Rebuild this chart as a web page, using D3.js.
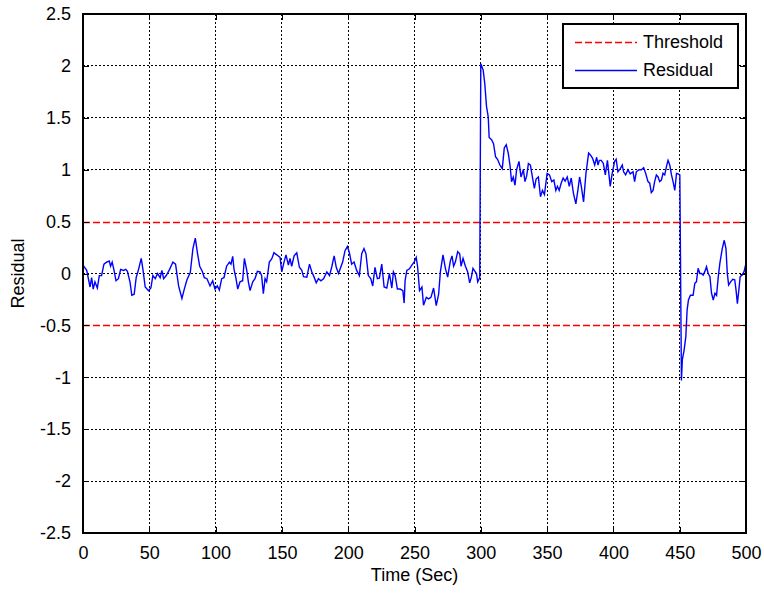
<!DOCTYPE html>
<html>
<head>
<meta charset="utf-8">
<script src="https://cdn.jsdelivr.net/npm/d3@7"></script>
<style>
  body { margin: 0; background: #fff; }
  text { font-family: "Liberation Sans", Arial, sans-serif; }
</style>
</head>
<body>
<script>
/* data */
var time = [0, 2.8, 5.3, 6.5, 7.7, 9, 10.8, 12.3, 14, 15.8, 17.8, 19.8, 20.8, 22, 23.4, 24.9, 26.7, 28.4, 30.5, 32.2,
  33.5, 35.5, 36.8, 38.6, 40.1, 41.9, 43.9, 45.2, 46.9, 49.4, 51.2, 52.7, 54.5, 56.2, 58.2, 59.5, 60.8, 62.8, 65.3, 67.8,
  69.8, 72.1, 74.6, 76.4, 78.4, 80.9, 82.9, 84.7, 86.4, 88, 90, 91.5, 93.5,
  95.8, 97.8, 99.5, 101.3, 102.8, 104.6, 106.3, 108.3, 110.4, 111.6, 112.9, 113.9, 115.4, 116.7, 118.4, 120.4, 121.7, 123.5,
  124.7, 126, 128, 129.7, 131.5, 133.5, 134.7, 136, 137.3, 138.5, 140.5, 142.3, 144, 146.1, 148.6, 149.9, 151.6, 153.1,
  154.9, 156.1, 157.4, 159.2, 161.2, 163.2, 165, 166.3, 168.8, 170.8, 172.6, 174.3, 175.9, 177.6, 179.4, 181.4, 183.9,
  185.9, 187.7, 189.4, 191, 192.7,
  195.8, 197.6, 199.4, 200.9, 202.6, 204.4, 206.4, 208.4, 210.2, 211.9, 213.4, 215.2, 217, 218.5, 220.2, 222, 223.5,
  225.3, 227.1, 229.1, 231.1, 232.9, 234.1, 235.4, 237.1, 239.2, 241.2, 242.2, 242.9, 244.2, 246.2, 248, 249.7, 251.3,
  252.3, 253.8, 255.6, 256.8, 258.9, 260.6, 262.4, 264.4, 266.4, 268.2, 269.5, 271.5, 273.3, 275, 277, 278.3, 279.5,
  280.8, 282.6, 284.1, 285.1, 286.6, 288.4, 290.1, 291.6, 292.9, 294.1, 295.1, 296.7, 297.7, 299.2,
  300, 301.8, 303, 304.3, 305.6, 306.3, 308.1, 309.6, 311.1, 312.6, 314.4, 316.2, 317.7, 319.2, 320.7, 322, 323.2,
  324.5, 325.8, 327, 328.8, 330.3, 332.1, 333.3, 334.6, 335.9, 337.4, 338.9, 340.4, 341.7, 343.4, 345, 346.5, 348, 350,
  351.8, 353.5, 355.1, 356.6, 357.8, 359.1, 360.6, 362.1, 363.6, 365.2, 366.7, 368.2, 369.9, 371.7, 373.2, 374.5, 375.8,
  377.5, 379.3, 381.3, 382.8, 384.3, 385.9, 387.4, 388.4, 389.4,
  390.8, 392.4, 393.9, 395.5, 397.6, 399.1, 400.9, 402.1, 403.4, 405.2, 406.7, 407.7, 409.2, 411, 412.7, 414.8, 416,
  417.3, 419.3, 421.1, 422.8, 424.3, 426.1, 427.4, 428.6, 429.9, 431.1, 432.4, 433.7, 434.9, 436.2, 437.4, 438.7, 440,
  441.2, 442.5, 443.8, 445, 446.3, 447.6, 448.8, 450.1, 451.3, 452, 453.3, 454.6, 455.6, 456.6, 458.1, 460.1, 461.4,
  462.6, 463.9, 465.2, 466.4, 467.7, 469, 470.2, 471.5, 472.8, 474, 475.3, 476.6, 477.8, 479.1, 480.3, 482.1, 483.6,
  484.9, 485.9, 486.9, 488.4, 490, 491.5, 492.5, 493.5, 494.6, 495.6, 497.1, 498.6, 500];

var residual = [0.08, 0.03, -0.13, -0.04, -0.15, -0.08, -0.14, -0.02, -0.02, 0.09, 0.11, 0.12, 0.07, 0.11, 0.03, -0.07, -0.05, 0.04, 0.03, 0.04,
  0.02, -0.085, -0.21, -0.2, -0.04, 0.04, 0.145, 0.04, -0.13, -0.165, -0.14, -0.02, -0.05, 0, -0.04, 0.03, -0.05, -0.02, 0.04, 0.11,
  0.09, -0.12, -0.24, -0.15, -0.06, 0.01, 0.24, 0.34, 0.19, 0.07, 0.02, -0.04, -0.05,
  -0.12, -0.07, -0.15, -0.12, -0.16, -0.05, -0.04, 0.07, 0.11, 0.09, 0.165, 0.04, -0.05, -0.15, -0.08, -0.07, 0.145, 0.03,
  -0.08, -0.165, -0.08, -0.05, 0.02, 0.015, -0.02, -0.195, -0.05, -0.08, 0.11, 0.14, 0.2, 0.18, 0.155, 0.015, 0.11, 0.18,
  0.08, 0.145, 0.07, 0.17, 0.2, 0.06, 0.03, -0.03, -0.035, 0.09, 0.015, -0.035, -0.09, -0.05, -0.07, -0.05, 0.015,
  -0.02, 0.07, 0.17, 0.06, 0,
  0.11, 0.22, 0.26, 0.2, 0.09, 0.11, 0.03, -0.02, 0.19, 0.24, 0.19, -0.02, -0.05, -0.12, 0.06, -0.05, -0.045,
  0.09, -0.13, -0.14, 0, -0.14, 0.015, -0.02, -0.15, -0.15, -0.165, -0.285, -0.07, 0.03, 0.045, 0.08, 0.11, 0.155,
  0.07, -0.165, -0.13, -0.305, -0.23, -0.245, -0.23, -0.14, -0.31, -0.2, 0.015, 0.18, 0.05, -0.035, 0.12, 0.17, 0.07,
  0.11, 0.21, 0.19, 0.07, 0.145, 0.07, 0.015, -0.09, -0.035, 0.05, 0.03, 0, -0.08, -0.04,
  2.02, 1.96, 1.83, 1.61, 1.51, 1.31, 1.29, 1.25, 1.125, 1.1, 1.045, 1.01, 1.21, 1.24, 1.16, 1.045, 0.885,
  0.93, 0.85, 1.0, 1.08, 0.93, 1.0, 0.885, 0.94, 1.06, 1.045, 0.93, 0.82, 0.91, 0.93, 0.74, 0.8, 0.76, 0.965,
  0.95, 0.885, 0.9, 0.8, 0.84, 0.8, 0.87, 0.92, 0.89, 0.93, 0.84, 0.92, 0.77, 0.67, 0.8, 0.93, 0.84,
  0.69, 0.965, 1.16, 1.14, 1.11, 1.045, 1.12, 1.045, 1.09,
  1.09, 1.06, 0.95, 1.09, 0.84, 0.965, 1.08, 1.1, 0.98, 1.01, 1.045, 0.98, 0.95, 1.0, 0.96, 0.98, 0.885,
  0.98, 1.0, 1.0, 1.02, 0.965, 0.885, 0.87, 0.78, 0.8, 0.885, 0.95, 0.93, 0.885, 0.9, 0.965, 0.95, 1.03,
  1.09, 1.045, 0.95, 0.885, 0.8, 0.965, 0.96, 0.95, -1.03, -0.83, -0.74, -0.61, -0.35, -0.255, -0.21, -0.21, -0.095,
  -0.08, 0.05, 0, 0, -0.015, 0.02, 0.065, 0, -0.03, -0.19, -0.255, -0.19, -0.21, -0.03, 0.1, 0.24, 0.32,
  0.24, 0, -0.11, -0.08, -0.055, -0.06, -0.16, -0.29, -0.16, -0.03, -0.015, 0.02, 0.1];

var threshold = [0.5, -0.5];
var xTicks = [0, 50, 100, 150, 200, 250, 300, 350, 400, 450, 500];
var yTicks = [2.5, 2, 1.5, 1, 0.5, 0, -0.5, -1, -1.5, -2, -2.5];
var legendNames = ["Threshold", "Residual"];

// dimensions of the axes box
var W = 764, H = 594;
var margin = { top: 14, right: 18, bottom: 61, left: 83 };
var width = W - margin.left - margin.right,
    height = H - margin.top - margin.bottom;

var svg = d3.select("body")
    .append("svg")
    .attr("width", W)
    .attr("height", H)
    .append("g")
    .attr("transform", "translate(" + margin.left + "," + margin.top + ")");

x = d3.scaleLinear().domain([0, 500]).range([0, width]);
y = d3.scaleLinear().domain([-2.5, 2.5]).range([height, 0]);

/* dotted grid (not under the threshold lines) */
svg.append("g")
    .selectAll("line")
    .data(xTicks.slice(1, -1))
    .join("line")
    .attr("x1", d => x(d)).attr("x2", d => x(d))
    .attr("y1", 0).attr("y2", height)
    .attr("stroke", "#000").attr("stroke-width", 1)
    .attr("shape-rendering", "crispEdges")
    .attr("stroke-dasharray", "2,2");

svg.append("g")
    .selectAll("line")
    .data(yTicks.slice(1, -1).filter(d => threshold.indexOf(d) < 0))
    .join("line")
    .attr("x1", 0).attr("x2", width)
    .attr("y1", d => y(d)).attr("y2", d => y(d))
    .attr("stroke", "#000").attr("stroke-width", 1)
    .attr("shape-rendering", "crispEdges")
    .attr("stroke-dasharray", "2,2");

/* threshold lines, snapped to a pixel row */
svg.append("g")
    .selectAll("line")
    .data(threshold)
    .join("line")
    .attr("x1", x(0)).attr("x2", x(500))
    .attr("y1", d => Math.round(y(d)) + 0.5).attr("y2", d => Math.round(y(d)) + 0.5)
    .attr("stroke", "#ff0000").attr("stroke-width", 1.4)
    .attr("stroke-dasharray", "7,3");

/* residual */
line = d3.line()
    .x((d, i) => x(time[i]))
    .y(d => y(d));

svg.append("path")
    .datum(residual)
    .attr("fill", "none")
    .attr("stroke", "#0000ff")
    .attr("stroke-width", 1.4)
    .attr("d", line);

/* axes, ticks inside like matlab */
fmt = d => String(d);
tick = 6;
svg.append("g")
    .attr("transform", `translate(0,${height})`)
    .call(d3.axisBottom(x).tickValues(xTicks).tickFormat(fmt).tickSizeInner(-tick).tickSizeOuter(0).tickPadding(13))
    .call(g => g.select(".domain").remove());
svg.append("g")
    .call(d3.axisTop(x).tickValues(xTicks).tickFormat("").tickSizeInner(-tick).tickSizeOuter(0))
    .call(g => g.select(".domain").remove());
svg.append("g")
    .call(d3.axisLeft(y).tickValues(yTicks).tickFormat(fmt).tickSizeInner(-tick).tickSizeOuter(0).tickPadding(12))
    .call(g => g.select(".domain").remove());
svg.append("g")
    .attr("transform", `translate(${width},0)`)
    .call(d3.axisRight(y).tickValues(yTicks).tickFormat("").tickSizeInner(-tick).tickSizeOuter(0))
    .call(g => g.select(".domain").remove());

svg.selectAll(".tick text")
    .attr("font-size", 18)
    .attr("font-family", "Liberation Sans, Arial, sans-serif")
    .attr("fill", "#000");
svg.selectAll(".tick line").attr("stroke", "#000").attr("shape-rendering", "crispEdges");

svg.append("rect")
    .attr("width", width).attr("height", height)
    .attr("fill", "none").attr("stroke", "#000").attr("stroke-width", 1.2)
    .attr("shape-rendering", "crispEdges");

// axis titles
svg.append("text")
    .attr("x", width / 2).attr("y", height + 48)
    .attr("text-anchor", "middle")
    .attr("font-size", 18)
    .text("Time (Sec)");
svg.append("text")
    .attr("transform", `translate(${-59},${height / 2}) rotate(-90)`)
    .attr("text-anchor", "middle")
    .attr("font-size", 18)
    .text("Residual");

/* legend */
legend = svg.append("g").attr("transform", `translate(${480},${10})`);
legend.append("rect")
    .attr("width", 175).attr("height", 64)
    .attr("fill", "#fff").attr("stroke", "#000").attr("stroke-width", 1.2)
    .attr("shape-rendering", "crispEdges");
legend.selectAll("line")
    .data(legendNames)
    .join("line")
    .attr("x1", 12).attr("x2", 74)
    .attr("y1", (d, i) => 18.5 + i * 28).attr("y2", (d, i) => 18.5 + i * 28)
    .attr("stroke", (d, i) => i == 0 ? "#ff0000" : "#0000ff")
    .attr("stroke-width", 1.4)
    .attr("stroke-dasharray", (d, i) => i == 0 ? "7,3" : null);
legend.selectAll("text")
    .data(legendNames)
    .join("text")
    .attr("x", 80)
    .attr("y", (d, i) => 18 + i * 28)
    .attr("dy", "0.35em")
    .attr("font-size", 18)
    .text(d => d);
</script>
</body>
</html>
